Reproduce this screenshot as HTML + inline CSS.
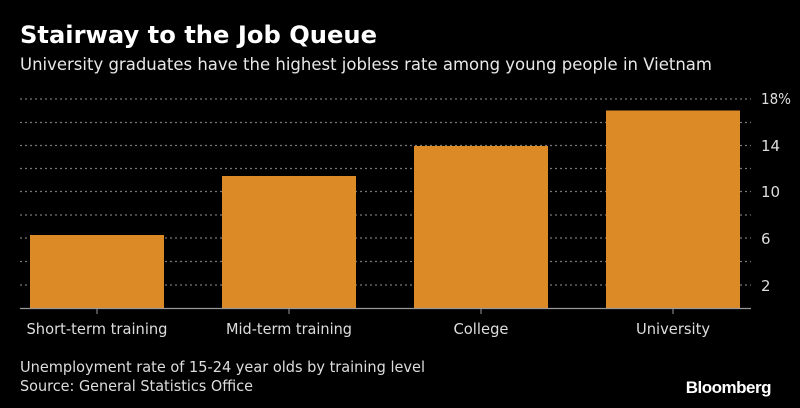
<!DOCTYPE html>
<html><head><style>body{margin:0;background:#000;}svg{display:block}</style></head><body>
<svg width="800" height="408" viewBox="0 0 800 408" xmlns="http://www.w3.org/2000/svg">
<rect width="800" height="408" fill="#000"/>
<text x="20" y="43" font-family="DejaVu Sans, Liberation Sans, sans-serif" font-weight="bold" font-size="24" fill="#fff" textLength="357" lengthAdjust="spacingAndGlyphs">Stairway to the Job Queue</text>
<text x="20" y="70" font-family="DejaVu Sans, Liberation Sans, sans-serif" font-size="17" fill="#e8e8e8" textLength="692" lengthAdjust="spacingAndGlyphs">University graduates have the highest jobless rate among young people in Vietnam</text>
<g stroke="#777" stroke-width="1.2" stroke-dasharray="2,3">
<line x1="20" x2="751" y1="99" y2="99"/><line x1="20" x2="751" y1="122.5" y2="122.5"/>
<line x1="20" x2="751" y1="145.5" y2="145.5"/><line x1="20" x2="751" y1="168.5" y2="168.5"/>
<line x1="20" x2="751" y1="191.5" y2="191.5"/><line x1="20" x2="751" y1="215" y2="215"/>
<line x1="20" x2="751" y1="238" y2="238"/><line x1="20" x2="751" y1="261.5" y2="261.5"/>
<line x1="20" x2="751" y1="285" y2="285"/>
</g>
<g fill="#dc8a26">
<rect x="30" y="235" width="134" height="73"/>
<rect x="222" y="176" width="134" height="132"/>
<rect x="414" y="146" width="134" height="162"/>
<rect x="606" y="110.5" width="134" height="197.5"/>
</g>
<line x1="20" x2="751" y1="308.5" y2="308.5" stroke="#999" stroke-width="1.2"/>
<g stroke="#999" stroke-width="1"><line x1="97" x2="97" y1="308" y2="314"/><line x1="289" x2="289" y1="308" y2="314"/><line x1="481" x2="481" y1="308" y2="314"/><line x1="673" x2="673" y1="308" y2="314"/></g>
<g font-family="DejaVu Sans, Liberation Sans, sans-serif" font-size="15" fill="#ddd">
<text x="761" y="104" textLength="30" lengthAdjust="spacingAndGlyphs">18%</text><text x="761" y="151">14</text><text x="761" y="197">10</text><text x="761" y="244">6</text><text x="761" y="291">2</text>
<g text-anchor="middle"><text x="97" y="334" textLength="141" lengthAdjust="spacingAndGlyphs">Short-term training</text><text x="289" y="334" textLength="126" lengthAdjust="spacingAndGlyphs">Mid-term training</text><text x="481" y="334" textLength="55" lengthAdjust="spacingAndGlyphs">College</text><text x="673" y="334" textLength="74" lengthAdjust="spacingAndGlyphs">University</text></g>
<text x="20" y="372" textLength="405" lengthAdjust="spacingAndGlyphs">Unemployment rate of 15-24 year olds by training level</text>
<text x="20" y="391" textLength="233" lengthAdjust="spacingAndGlyphs">Source: General Statistics Office</text>
</g>
<text x="771" y="393" text-anchor="end" font-family="Liberation Sans, sans-serif" font-weight="bold" font-size="17" fill="#fff" letter-spacing="-0.5">Bloomberg</text>
</svg>
</body></html>
